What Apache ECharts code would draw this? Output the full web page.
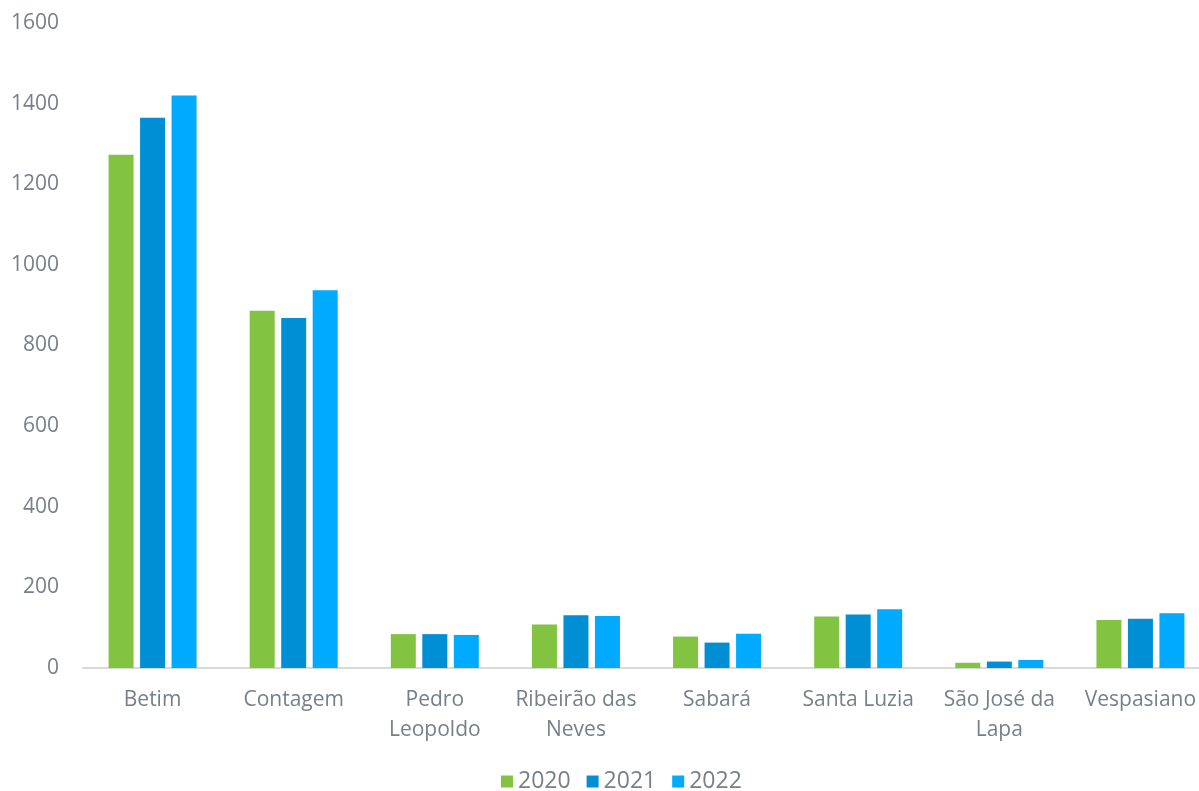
<!DOCTYPE html>
<html>
<head>
<meta charset="utf-8">
<script src="https://cdn.jsdelivr.net/npm/echarts@6/dist/echarts.min.js"></script>
<style>
  html, body { margin: 0; padding: 0; background: #ffffff; }
  #chart { width: 1199px; height: 791px; }
</style>
</head>
<body>
<div id="chart"></div>
<script>
// Municipalities (line breaks where the axis label wraps)
const categories = ['Betim', 'Contagem', 'Pedro\nLeopoldo', 'Ribeirão das\nNeves', 'Sabará', 'Santa Luzia', 'São José da\nLapa', 'Vespasiano'];
const years = ['2020', '2021', '2022'];
const values2020 = [1273, 886, 84, 108, 78, 128, 13, 119];
const values2021 = [1365, 868, 84, 131, 63, 133, 16, 122];
const values2022 = [1420, 937, 82, 129, 85, 146, 20, 136];
const yTicks = { min: 0, max: 1600, interval: 200 };

const colors = ['#82c341', '#008fd5', '#00aaff'];
const textColor = '#76808a';
const fontFamily = 'Open Sans, sans-serif';

const chart = echarts.init(document.getElementById('chart'));
const seriesData = [values2020, values2021, values2022];

chart.setOption({
  animation: false,
  color: colors,
  // the plot area runs slightly past the right edge, so the last group sits close to it
  grid: { left: 82, width: 1129, top: 23, height: 645, containLabel: false, outerBoundsMode: 'none' },
  graphic: [{
    type: 'line',
    shape: { x1: 82, y1: 668, x2: 1199, y2: 668 },
    style: { stroke: '#d9d9d9', lineWidth: 2 },
    z: 1
  }],
  legend: {
    top: 770,
    left: 501,
    padding: 0,
    itemWidth: 12,
    itemHeight: 12,
    itemGap: 16,
    icon: 'rect',
    textStyle: { color: textColor, fontSize: 23, fontFamily: fontFamily },
    data: years
  },
  xAxis: {
    type: 'category',
    data: categories,
    axisLine: { show: false },
    axisTick: { show: false },
    axisLabel: {
      color: textColor,
      fontSize: 21,
      fontFamily: fontFamily,
      margin: 17,
      lineHeight: 30,
      interval: 0
    }
  },
  yAxis: {
    type: 'value',
    min: yTicks.min,
    max: yTicks.max,
    interval: yTicks.interval,
    axisLine: { show: false },
    axisTick: { show: false },
    splitLine: { show: false },
    axisLabel: {
      color: textColor,
      fontSize: 21,
      fontFamily: fontFamily,
      margin: 23,
      formatter: (v) => String(v)
    }
  },
  series: years.map((y, i) => ({
    name: y,
    type: 'bar',
    data: seriesData[i],
    barWidth: 25,
    barGap: '26%',
    z: 2,
    itemStyle: { color: colors[i] }
  }))
});
</script>
</body>
</html>
